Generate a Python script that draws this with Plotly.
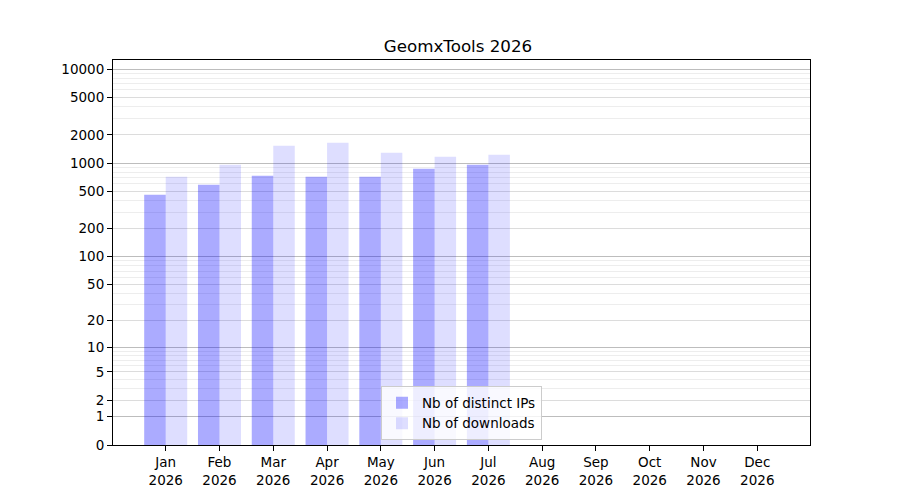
"""GeomxTools 2026: distinct IPs and downloads per month, log(1+n) y axis."""
import plotly.graph_objects as go

MONTHS = ["Jan", "Feb", "Mar", "Apr", "May", "Jun",
          "Jul", "Aug", "Sep", "Oct", "Nov", "Dec"]
YEAR = "2026"
DISTINCT_IPS = [459, 586, 732, 714, 714, 868, 958]
DOWNLOADS = [714, 958, 1528, 1643, 1287, 1166, 1225]
Y_TICKS = [0, 1, 2, 5, 10, 20, 50, 100, 200, 500, 1000, 2000, 5000, 10000]
DECADES = [1, 10, 100, 1000, 10000]

_INK = "#000000"
_IPS = "rgba(0,0,255,0.33)"
_DL = "rgba(0,0,255,0.13)"
_MAJOR = "rgba(0,0,0,0.2)"
_MINOR = "rgba(0,0,0,0.07)"

# y axis is log(1+n): bars start at 1 on a log axis, ticks shifted by one
minor_vals = [k * d for d in DECADES[:-1] for k in range(2, 10)]
Y_RANGE = [0, 4.097]

fig = go.Figure()
fig.add_trace(go.Bar(
    x=list(range(len(DISTINCT_IPS))), y=DISTINCT_IPS, base=1,
    name="Nb of distinct IPs", marker={"color": _IPS, "line": {"width": 0}},
))
fig.add_trace(go.Bar(
    x=list(range(len(DOWNLOADS))), y=DOWNLOADS, base=1,
    name="Nb of downloads", marker={"color": _DL, "line": {"width": 0}},
))
frame = {"showline": True, "linecolor": _INK, "linewidth": 1, "mirror": True,
         "zeroline": False}
fig.update_layout(
    width=900,
    height=500,
    # page body has an 8px margin, so the plot box is shifted up/left by 8
    margin={"l": 105, "r": 98, "t": 52, "b": 63},
    paper_bgcolor="white",
    plot_bgcolor="white",
    font={"family": "DejaVu Sans", "size": 13.5, "color": _INK},
    title={"text": "GeomxTools 2026", "x": 0.5, "xanchor": "center",
           "y": 0.924, "yanchor": "middle", "font": {"size": 16.7}},
    barmode="group",
    bargap=0.2,
    bargroupgap=0,
    showlegend=True,
    legend={"x": 0.5, "xanchor": "center", "y": 0.012, "yanchor": "bottom",
            "bgcolor": "rgba(255,255,255,0.8)", "bordercolor": "#cccccc",
            "borderwidth": 1, "font": {"size": 13.5}},
    xaxis={
        **frame,
        "range": [-0.98, 11.98],
        "tickvals": list(range(len(MONTHS))),
        "ticktext": [f"{m}<br>{YEAR}" for m in MONTHS],
        "showgrid": False,
        "ticks": "outside", "ticklen": 5, "tickcolor": _INK,
    },
    yaxis={
        **frame,
        "type": "log",
        "range": Y_RANGE,
        "tickvals": [t + 1 for t in Y_TICKS],
        "ticktext": [str(t) for t in Y_TICKS],
        "gridcolor": _MINOR,
        "ticks": "outside", "ticklen": 5, "tickcolor": _INK,
        "minor": {"tickvals": [v + 1 for v in minor_vals], "showgrid": True,
                  "gridcolor": _MINOR, "ticks": ""},
    },
    # overlay axis only carries the darker decade grid lines
    yaxis2={
        "type": "log",
        "range": Y_RANGE,
        "overlaying": "y",
        "tickvals": [d + 1 for d in DECADES],
        "showticklabels": False,
        "gridcolor": _MAJOR,
        "zeroline": False,
        "ticks": "",
    },
)
# invisible trace so the overlay axis is drawn
fig.add_trace(go.Scatter(x=[0], y=[DECADES[0] + 1], yaxis="y2", mode="markers",
                         marker={"opacity": 0}, showlegend=False,
                         hoverinfo="skip"))
fig.write_html("out.html")
